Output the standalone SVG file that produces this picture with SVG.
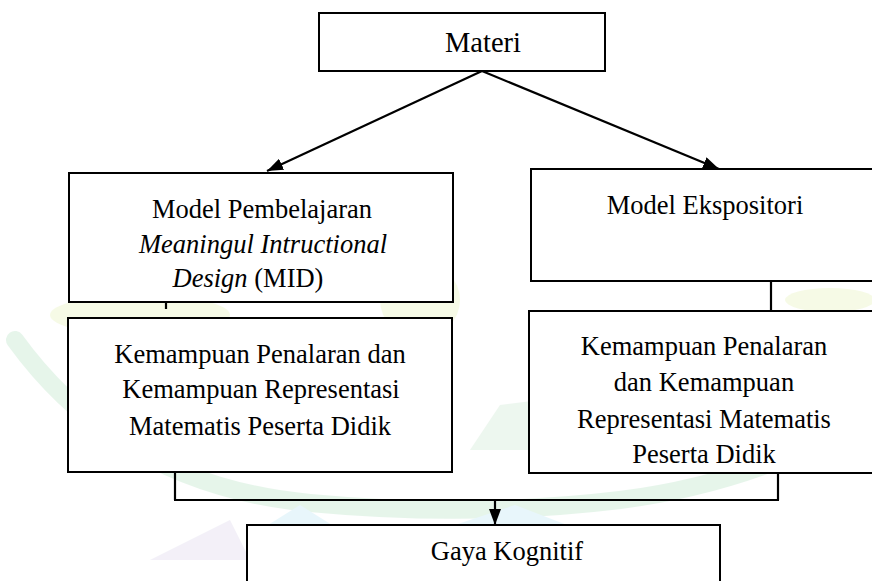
<svg xmlns="http://www.w3.org/2000/svg" width="872" height="581" viewBox="0 0 872 581">
<style>
.box{fill:#fff;stroke:#000;stroke-width:2}
.t{font-family:"Liberation Serif","Times New Roman",serif;font-size:26.5px;fill:#000;text-anchor:middle}
.it{font-style:italic}
.c{stroke:#000;stroke-width:2.2;fill:none}
</style>
<defs>
<marker id="ah" viewBox="0 0 16 12" refX="16" refY="6" markerWidth="16" markerHeight="12" markerUnits="userSpaceOnUse" orient="auto">
<path d="M0,0 L16,6 L0,12 z" fill="#000"/>
</marker>
</defs>
<rect width="872" height="581" fill="#fff"/>
<g id="watermark" opacity="0.35">
<path d="M15,340 Q120,485 310,503 Q470,518 620,500 Q760,482 870,415" fill="none" stroke="#b9e3c6" stroke-width="18" stroke-linecap="round"/>
<ellipse cx="140" cy="315" rx="90" ry="20" fill="#e6f3b8"/>
<ellipse cx="420" cy="300" rx="40" ry="38" fill="#e6f3b8"/>
<ellipse cx="830" cy="300" rx="45" ry="12" fill="#e6f3b8"/>
<path d="M470,450 L500,405 L540,400 L560,450 Z" fill="#cde9d4"/>
<path d="M440,530 L515,505 L580,530 Z" fill="#bfe8f5"/>
<path d="M260,530 L300,505 L340,530 Z" fill="#bfe8f5"/>
<path d="M150,560 L230,520 L250,560 Z" fill="#ddd6ec"/>
</g>
<g id="connectors">
<line class="c" x1="482" y1="71" x2="267" y2="171" marker-end="url(#ah)"/>
<line class="c" x1="482" y1="71" x2="719" y2="169" marker-end="url(#ah)"/>
<line class="c" x1="166" y1="302" x2="166" y2="309"/>
<line class="c" x1="771" y1="281" x2="771" y2="311"/>
<line class="c" x1="175" y1="472" x2="175" y2="500"/>
<line class="c" x1="174" y1="500" x2="779" y2="500"/>
<line class="c" x1="778" y1="468" x2="778" y2="500"/>
<line class="c" x1="495" y1="500" x2="495" y2="525" marker-end="url(#ah)"/>
</g>
<g id="materi">
<rect class="box" x="319" y="13" width="286" height="58"/>
<text class="t" x="483" y="52" style="font-size:28.5px">Materi</text>
</g>
<g id="model-mid">
<rect class="box" x="69" y="173" width="384" height="129"/>
<text class="t" x="262" y="218">Model Pembelajaran</text>
<text class="t it" x="263" y="253">Meaningul Intructional</text>
<text class="t" x="248" y="287"><tspan class="it">Design</tspan> (MID)</text>
</g>
<g id="model-ekspositori">
<rect class="box" x="531" y="169" width="345" height="112"/>
<text class="t" x="705" y="214">Model Ekspositori</text>
</g>
<g id="kemampuan-mid">
<rect class="box" x="68" y="318" width="384" height="154"/>
<text class="t" x="260" y="363">Kemampuan Penalaran dan</text>
<text class="t" x="261" y="398">Kemampuan Representasi</text>
<text class="t" x="260" y="435">Matematis Peserta Didik</text>
</g>
<g id="kemampuan-ekspositori">
<rect class="box" x="529" y="311" width="347" height="162"/>
<text class="t" x="704" y="355">Kemampuan Penalaran</text>
<text class="t" x="704" y="391">dan Kemampuan</text>
<text class="t" x="704" y="428">Representasi Matematis</text>
<text class="t" x="704" y="463">Peserta Didik</text>
</g>
<g id="gaya-kognitif">
<rect class="box" x="247" y="525" width="473" height="70"/>
<text class="t" x="507" y="560">Gaya Kognitif</text>
</g>
</svg>
